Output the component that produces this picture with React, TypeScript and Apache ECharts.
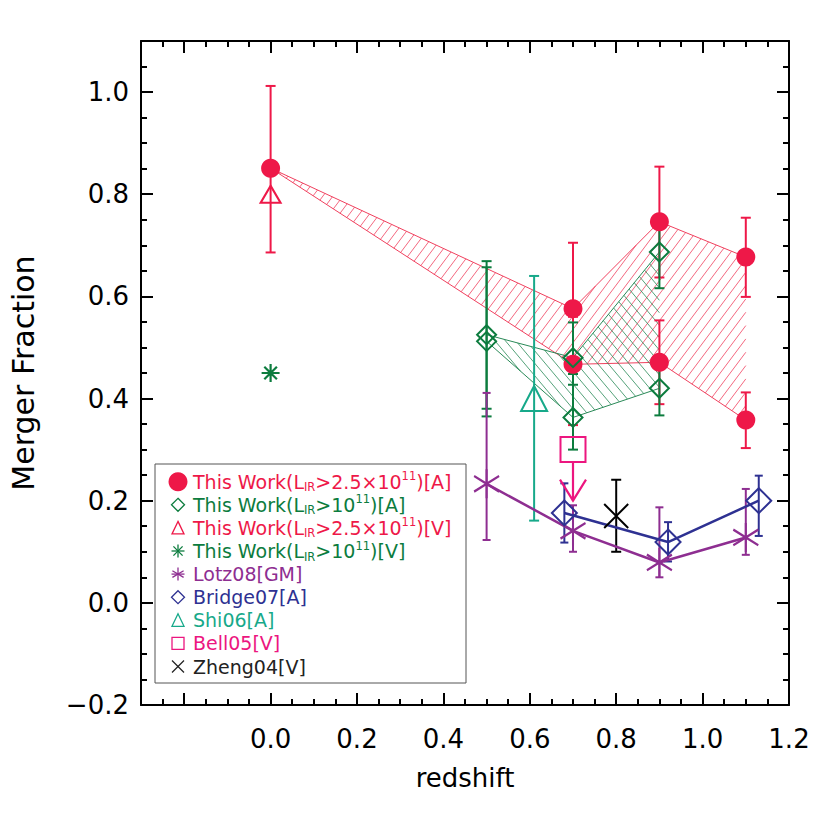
import React, { useEffect, useRef } from 'react';
import * as echarts from 'echarts';

const FONT = '"DejaVu Sans", "Liberation Sans", sans-serif';

const C_RED = '#EE1848';
const C_GREEN = '#0C7C3E';
const C_TEAL = '#17A98A';
const C_PURPLE = '#8E2E91';
const C_NAVY = '#2E3192';
const C_PINK = '#EC167F';
const C_BLACK = '#000000';

// ---- axes ----
const X_MIN = -0.3;
const X_MAX = 1.2;
const Y_MIN = -0.2;
const Y_MAX = 1.1;
const xMajorTicks = [-0.2, 0, 0.2, 0.4, 0.6, 0.8, 1.0, 1.2];
const xTickLabels = [0, 0.2, 0.4, 0.6, 0.8, 1.0, 1.2];
const xMinorTicks = [-0.25, -0.15, -0.1, -0.05, 0.05, 0.1, 0.15, 0.25, 0.3, 0.35, 0.45, 0.5, 0.55, 0.65, 0.7, 0.75, 0.85, 0.9, 0.95, 1.05, 1.1, 1.15];
const yMajorTicks = [-0.2, 0, 0.2, 0.4, 0.6, 0.8, 1.0];
const yTickLabels = [-0.2, 0, 0.2, 0.4, 0.6, 0.8, 1.0];
const yMinorTicks = [-0.15, -0.1, -0.05, 0.05, 0.1, 0.15, 0.25, 0.3, 0.35, 0.45, 0.5, 0.55, 0.65, 0.7, 0.75, 0.85, 0.9, 0.95, 1.05];

// ---- This Work (L_IR > 2.5e11) [A] ----
const twRedZ = [0.0, 0.7, 0.7, 0.9, 0.9, 1.1, 1.1];
const twRedF = [0.851, 0.576, 0.467, 0.746, 0.471, 0.677, 0.358];
const twRedLo = [0.686, 0.46, 0.348, 0.637, 0.389, 0.599, 0.303];
const twRedHi = [1.012, 0.705, 0.56, 0.854, 0.553, 0.754, 0.412];
const redBandZ = [0.0, 0.7, 0.9, 1.1];
const redBandUpper = [0.851, 0.576, 0.746, 0.677];
const redBandLower = [0.851, 0.467, 0.471, 0.358];

// ---- This Work (L_IR > 1e11) [A] ----
const twGreenZ = [0.5, 0.5, 0.7, 0.7, 0.9, 0.9];
const twGreenF = [0.525, 0.512, 0.48, 0.363, 0.687, 0.42];
const twGreenLo = [0.38, 0.365, 0.427, 0.3, 0.616, 0.367];
const twGreenHi = [0.669, 0.657, 0.549, 0.448, 0.759, 0.474];
const greenBandZ = [0.5, 0.7, 0.9];
const greenBandUpper = [0.525, 0.48, 0.687];
const greenBandLower = [0.512, 0.363, 0.42];

// ---- This Work [V] ----
const twRedVZ = [0.0];
const twRedVF = [0.8];
const twGreenVZ = [0.0];
const twGreenVF = [0.45];

// ---- Lotz08 [GM] ----
const lotzZ = [0.5, 0.7, 0.9, 1.1];
const lotzF = [0.233, 0.141, 0.079, 0.128];
const lotzLo = [0.123, 0.1, 0.05, 0.094];
const lotzHi = [0.411, 0.191, 0.187, 0.223];

// ---- Bridge07 [A] ----
const bridgeZ = [0.68, 0.92, 1.13];
const bridgeF = [0.176, 0.119, 0.2];
const bridgeLo = [0.118, 0.081, 0.131];
const bridgeHi = [0.234, 0.158, 0.249];

// ---- Shi06 [A] ----
const shiZ = [0.61];
const shiF = [0.4];
const shiLo = [0.161];
const shiHi = [0.64];

// ---- Bell05 [V] (upper limit) ----
const bellZ = [0.7];
const bellF = [0.3];
const bellLimit = [0.2];

// ---- Zheng04 [V] ----
const zhengZ = [0.8];
const zhengF = [0.17];
const zhengLo = [0.1];
const zhengHi = [0.241];

// ---- legend ----
const legendRows = [
  { sym: 'dot', color: C_RED, tokens: [['m', 'This Work(L'], ['s', 'IR'], ['m', '>2.5×10'], ['u', '11'], ['m', ')[A]']] },
  { sym: 'diamond', color: C_GREEN, tokens: [['m', 'This Work(L'], ['s', 'IR'], ['m', '>10'], ['u', '11'], ['m', ')[A]']] },
  { sym: 'triangle', color: C_RED, tokens: [['m', 'This Work(L'], ['s', 'IR'], ['m', '>2.5×10'], ['u', '11'], ['m', ')[V]']] },
  { sym: 'star8', color: C_GREEN, tokens: [['m', 'This Work(L'], ['s', 'IR'], ['m', '>10'], ['u', '11'], ['m', ')[V]']] },
  { sym: 'star6', color: C_PURPLE, tokens: [['m', 'Lotz08[GM]']] },
  { sym: 'diamond', color: C_NAVY, tokens: [['m', 'Bridge07[A]']] },
  { sym: 'triangle', color: C_TEAL, tokens: [['m', 'Shi06[A]']] },
  { sym: 'square', color: C_PINK, tokens: [['m', 'Bell05[V]']] },
  { sym: 'cross', color: '#222222', tokens: [['m', 'Zheng04[V]']] },
];

const zip2 = (a: number[], b: number[]) => a.map((v, i) => [v, b[i]]);
const zip3 = (a: number[], b: number[], c: number[]) => a.map((v, i) => [v, b[i], c[i]]);

function hatch(poly: number[][], dir: number[], spacing: number) {
  const n = [-dir[1], dir[0]];
  const proj = poly.map((p) => p[0] * n[0] + p[1] * n[1]);
  const pmin = Math.min(...proj);
  const pmax = Math.max(...proj);
  const segs: number[][][] = [];
  for (let c = Math.ceil(pmin / spacing) * spacing; c <= pmax; c += spacing) {
    const hits: number[][] = [];
    for (let i = 0; i < poly.length; i++) {
      const j = (i + 1) % poly.length;
      const a = poly[i];
      const b = poly[j];
      const fa = proj[i] - c;
      const fb = proj[j] - c;
      if ((fa < 0) !== (fb < 0)) {
        const t = fa / (fa - fb);
        const x = a[0] + t * (b[0] - a[0]);
        const y = a[1] + t * (b[1] - a[1]);
        hits.push([x, y, x * dir[0] + y * dir[1]]);
      }
    }
    hits.sort((p, q) => p[2] - q[2]);
    for (let k = 0; k + 1 < hits.length; k += 2) segs.push([hits[k], hits[k + 1]]);
  }
  return segs;
}

function bandRender(zs: number[], up: number[], lo: number[], color: string, dir: number[], spacing: number) {
  return (params: any, api: any) => {
    if (params.dataIndex !== 0) return null;
    const pu = zs.map((z, i) => api.coord([z, up[i]]));
    const pl = zs.map((z, i) => api.coord([z, lo[i]]));
    const poly = pu.concat(pl.slice().reverse());
    const segs = hatch(poly, dir, spacing);
    const children: any[] = segs.map((s) => ({
      type: 'line',
      shape: { x1: s[0][0], y1: s[0][1], x2: s[1][0], y2: s[1][1] },
      style: { stroke: color, lineWidth: 0.8 },
    }));
    children.push({ type: 'polyline', shape: { points: pu }, style: { stroke: color, lineWidth: 1, fill: 'none' } });
    children.push({ type: 'polyline', shape: { points: pl }, style: { stroke: color, lineWidth: 1, fill: 'none' } });
    return { type: 'group', children };
  };
}

function errRender(color: string, cap: number) {
  return (params: any, api: any) => {
    const x = api.value(0);
    const a = api.coord([x, api.value(1)]);
    const b = api.coord([x, api.value(2)]);
    const st = { stroke: color, lineWidth: 2 };
    return {
      type: 'group',
      children: [
        { type: 'line', shape: { x1: a[0], y1: a[1], x2: b[0], y2: b[1] }, style: st },
        { type: 'line', shape: { x1: a[0] - cap, y1: a[1], x2: a[0] + cap, y2: a[1] }, style: st },
        { type: 'line', shape: { x1: b[0] - cap, y1: b[1], x2: b[0] + cap, y2: b[1] }, style: st },
      ],
    };
  };
}

function errSeries(color: string, z: number[], lo: number[], hi: number[], cap = 5) {
  return {
    type: 'custom',
    renderItem: errRender(color, cap),
    data: zip3(z, lo, hi),
    encode: { x: 0, y: [1, 2] },
    silent: true,
    z: 2,
  };
}

function hollow(color: string, width = 2) {
  return { color: 'rgba(0,0,0,0)', borderColor: color, borderWidth: width, opacity: 1 };
}

const STAR8 = 'path://M0,-10L0,10M-10,0L10,0M-7,-7L7,7M-7,7L7,-7';
const STAR6 = 'path://M0,-10L0,10M-8.4,-5.4L8.4,5.4M-8.4,5.4L8.4,-5.4';
const CROSS = 'path://M-10,-10L10,10M-10,10L10,-10';

function legendSymbol(sym: string, cx: number, cy: number, color: string) {
  const st = { stroke: color, lineWidth: 1.3, fill: 'none' };
  const r = 6.5;
  switch (sym) {
    case 'dot':
      return [{ type: 'circle', shape: { cx, cy, r: 9.5 }, style: { fill: color } }];
    case 'diamond':
      return [{ type: 'polygon', shape: { points: [[cx, cy - r], [cx + r, cy], [cx, cy + r], [cx - r, cy]] }, style: st }];
    case 'triangle':
      return [{ type: 'polygon', shape: { points: [[cx, cy - 6.5], [cx + 6, cy + 6], [cx - 6, cy + 6]] }, style: st }];
    case 'square':
      return [{ type: 'rect', shape: { x: cx - 6, y: cy - 6, width: 12, height: 12 }, style: st }];
    case 'cross':
      return [
        { type: 'line', shape: { x1: cx - 6, y1: cy - 6, x2: cx + 6, y2: cy + 6 }, style: st },
        { type: 'line', shape: { x1: cx - 6, y1: cy + 6, x2: cx + 6, y2: cy - 6 }, style: st },
      ];
    case 'star8':
      return [
        { type: 'line', shape: { x1: cx, y1: cy - 6.5, x2: cx, y2: cy + 6.5 }, style: st },
        { type: 'line', shape: { x1: cx - 6.5, y1: cy, x2: cx + 6.5, y2: cy }, style: st },
        { type: 'line', shape: { x1: cx - 4.6, y1: cy - 4.6, x2: cx + 4.6, y2: cy + 4.6 }, style: st },
        { type: 'line', shape: { x1: cx - 4.6, y1: cy + 4.6, x2: cx + 4.6, y2: cy - 4.6 }, style: st },
      ];
    case 'star6':
    default:
      return [
        { type: 'line', shape: { x1: cx, y1: cy - 6.5, x2: cx, y2: cy + 6.5 }, style: st },
        { type: 'line', shape: { x1: cx - 5.6, y1: cy - 3.3, x2: cx + 5.6, y2: cy + 3.3 }, style: st },
        { type: 'line', shape: { x1: cx - 5.6, y1: cy + 3.3, x2: cx + 5.6, y2: cy - 3.3 }, style: st },
        { type: 'line', shape: { x1: cx - 6.5, y1: cy, x2: cx + 6.5, y2: cy }, style: st },
      ];
  }
}

function buildLegend() {
  const LX = 155, LY = 464, LW = 311, LH = 219;
  const row0 = 481.7, dy = 23.1, symX = 178, textX = 193;
  const els: any[] = [
    { type: 'rect', shape: { x: LX, y: LY, width: LW, height: LH }, style: { fill: '#ffffff', stroke: '#555555', lineWidth: 1 }, z: 100 },
  ];
  legendRows.forEach((row, i) => {
    const cy = row0 + i * dy;
    legendSymbol(row.sym, symX, cy, row.color).forEach((e) => els.push({ ...e, z: 101 }));
    const text = row.tokens.map(([k, t]) => `{${k}|${t}}`).join('');
    els.push({
      type: 'text',
      x: textX,
      y: cy,
      z: 101,
      style: {
        text,
        verticalAlign: 'middle',
        align: 'left',
        fill: row.color,
        fontFamily: FONT,
        fontSize: 19,
        rich: {
          m: { fill: row.color, fontFamily: FONT, fontSize: 19, lineHeight: 23, verticalAlign: 'middle' },
          s: { fill: row.color, fontFamily: FONT, fontSize: 11.5, verticalAlign: 'bottom' },
          u: { fill: row.color, fontFamily: FONT, fontSize: 11.5, verticalAlign: 'top' },
        },
      },
    });
  });
  return els;
}

const fmt = (v: number) => (v < 0 ? '\u2212' : '') + Math.abs(v).toFixed(1);

function axisPair(dim: 'x' | 'y', pos: string, major: number[], minor: number[], labels: number[] | null, extra: any) {
  const min = dim === 'x' ? X_MIN : Y_MIN;
  const max = dim === 'x' ? X_MAX : Y_MAX;
  const base = {
    type: 'value',
    gridIndex: 0,
    position: pos,
    min,
    max,
    splitLine: { show: false },
    splitArea: { show: false },
  };
  return [
    {
      ...base,
      ...extra,
      axisLine: { show: true, onZero: false, lineStyle: { color: '#000', width: 2 } },
      axisTick: { show: true, inside: true, length: 12, customValues: major, lineStyle: { color: '#000', width: 2 } },
      axisLabel: labels
        ? { show: true, customValues: labels, formatter: fmt, margin: dim === 'x' ? 21 : 12, fontSize: 26, fontFamily: FONT, color: '#000' }
        : { show: false },
    },
    {
      ...base,
      axisLine: { show: false, onZero: false },
      axisTick: { show: true, inside: true, length: 6, customValues: minor, lineStyle: { color: '#000', width: 2 } },
      axisLabel: { show: false },
    },
  ];
}

export default function App() {
  const ref = useRef<HTMLDivElement>(null);
  useEffect(() => {
    if (!ref.current) return;
    const chart = echarts.init(ref.current, null, { renderer: 'svg' });
    const xAxes = [
      ...axisPair('x', 'bottom', xMajorTicks, xMinorTicks, xTickLabels, {
        name: 'redshift',
        nameLocation: 'middle',
        nameGap: 60,
        nameTextStyle: { fontSize: 26, fontFamily: FONT, color: '#000' },
      }),
      ...axisPair('x', 'top', xMajorTicks, xMinorTicks, null, {}),
    ];
    const yAxes = [
      ...axisPair('y', 'left', yMajorTicks, yMinorTicks, yTickLabels, {
        name: 'Merger Fraction',
        nameLocation: 'middle',
        nameGap: 103,
        nameTextStyle: { fontSize: 30, fontFamily: FONT, color: '#000' },
      }),
      ...axisPair('y', 'right', yMajorTicks, yMinorTicks, null, {}),
    ];
    const option: any = {
      animation: false,
      backgroundColor: '#ffffff',
      grid: { left: 141, top: 41, width: 648, height: 664, containLabel: false },
      xAxis: xAxes,
      yAxis: yAxes,
      graphic: buildLegend(),
      series: [
        {
          type: 'custom',
          renderItem: bandRender(redBandZ, redBandUpper, redBandLower, '#F0405E', [0.6, -0.8], 8),
          data: zip2(redBandZ, redBandUpper),
          encode: { x: 0, y: 1 },
          silent: true,
          z: 1,
        },
        {
          type: 'custom',
          renderItem: bandRender(greenBandZ, greenBandUpper, greenBandLower, '#2A8A58', [0.643, 0.766], 8),
          data: zip2(greenBandZ, greenBandUpper),
          encode: { x: 0, y: 1 },
          silent: true,
          z: 1,
        },
        errSeries(C_RED, twRedZ, twRedLo, twRedHi),
        { type: 'scatter', data: zip2(twRedZ, twRedF), symbol: 'circle', symbolSize: 19, itemStyle: { color: C_RED, opacity: 1 }, silent: true, z: 2 },
        errSeries(C_GREEN, twGreenZ, twGreenLo, twGreenHi),
        { type: 'scatter', data: zip2(twGreenZ, twGreenF), symbol: 'diamond', symbolSize: 19, itemStyle: hollow(C_GREEN), silent: true, z: 2 },
        { type: 'scatter', data: zip2(twRedVZ, twRedVF), symbol: 'triangle', symbolSize: [20, 17], itemStyle: hollow(C_RED), silent: true, z: 2 },
        { type: 'scatter', data: zip2(twGreenVZ, twGreenVF), symbol: STAR8, symbolSize: 18, itemStyle: hollow(C_GREEN, 2.2), silent: true, z: 2 },
        errSeries(C_PURPLE, lotzZ, lotzLo, lotzHi, 4),
        { type: 'line', data: zip2(lotzZ, lotzF), showSymbol: false, symbol: 'none', lineStyle: { color: C_PURPLE, width: 2.5 }, silent: true, z: 2 },
        { type: 'scatter', data: zip2(lotzZ, lotzF), symbol: STAR6, symbolSize: [25, 29], itemStyle: hollow(C_PURPLE, 2.2), silent: true, z: 2 },
        errSeries(C_NAVY, bridgeZ, bridgeLo, bridgeHi, 4),
        { type: 'line', data: zip2(bridgeZ, bridgeF), showSymbol: false, symbol: 'none', lineStyle: { color: C_NAVY, width: 2.5 }, silent: true, z: 2 },
        { type: 'scatter', data: zip2(bridgeZ, bridgeF), symbol: 'diamond', symbolSize: 25, itemStyle: hollow(C_NAVY), silent: true, z: 2 },
        errSeries(C_TEAL, shiZ, shiLo, shiHi),
        { type: 'scatter', data: zip2(shiZ, shiF), symbol: 'triangle', symbolSize: [26, 25], itemStyle: hollow(C_TEAL), silent: true, z: 2 },
        { type: 'scatter', data: zip2(bellZ, bellF), symbol: 'rect', symbolSize: 25, itemStyle: hollow(C_PINK), silent: true, z: 2 },
        {
          type: 'custom',
          data: zip3(bellZ, bellF, bellLimit),
          encode: { x: 0, y: [1, 2] },
          silent: true,
          z: 2,
          renderItem: (params: any, api: any) => {
            const x = api.value(0);
            const top = api.coord([x, api.value(1)]);
            const tip = api.coord([x, api.value(2)]);
            const st = { stroke: C_PINK, lineWidth: 2.2 };
            return {
              type: 'group',
              children: [
                { type: 'line', shape: { x1: top[0], y1: top[1] + 12.5, x2: tip[0], y2: tip[1] }, style: st },
                { type: 'polyline', shape: { points: [[tip[0] - 13, tip[1] - 21], [tip[0], tip[1]], [tip[0] + 13, tip[1] - 21]] }, style: { ...st, fill: 'none' } },
              ],
            };
          },
        },
        errSeries(C_BLACK, zhengZ, zhengLo, zhengHi),
        { type: 'scatter', data: zip2(zhengZ, zhengF), symbol: CROSS, symbolSize: 24, itemStyle: hollow(C_BLACK), silent: true, z: 2 },
      ],
    };
    chart.setOption(option);
    return () => chart.dispose();
  }, []);
  return <div ref={ref} style={{ position: 'fixed', left: 0, top: 0, width: 830, height: 830, background: '#fff' }} />;
}
